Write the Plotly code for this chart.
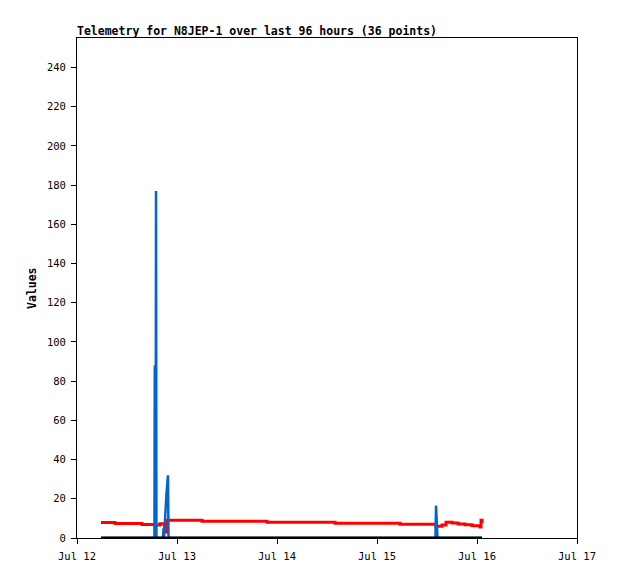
import plotly.graph_objects as go

# ---- data ----
red_times = ["2024-07-12 05:46", "2024-07-12 09:07", "2024-07-12 15:36", "2024-07-12 18:43",
             "2024-07-12 19:55", "2024-07-12 21:00", "2024-07-12 21:22", "2024-07-12 21:43",
             "2024-07-13 06:00", "2024-07-13 21:36", "2024-07-14 13:55", "2024-07-15 05:31",
             "2024-07-15 14:10", "2024-07-15 15:36", "2024-07-15 16:34", "2024-07-15 18:00",
             "2024-07-15 19:26", "2024-07-15 21:07", "2024-07-15 22:48", "2024-07-16 00:43",
             "2024-07-16 00:58", "2024-07-16 01:12"]
red_values = [7.9, 7.4, 6.9, 6.6, 7.3, 4.5, 3.0, 9.0, 8.5, 8.0, 7.5, 7.0,
              6.0, 6.6, 8.0, 7.6, 7.2, 6.7, 6.2, 5.6, 9.0, 7.6]

blue_times = ["2024-07-12 05:46", "2024-07-12 18:35", "2024-07-12 18:40", "2024-07-12 18:45",
              "2024-07-12 18:52", "2024-07-12 18:58", "2024-07-12 19:04",
              "2024-07-12 20:38", "2024-07-12 20:46", "2024-07-12 20:53",
              "2024-07-12 21:00", "2024-07-12 21:14", "2024-07-12 21:29", "2024-07-12 21:41",
              "2024-07-12 21:50", "2024-07-12 21:58", "2024-07-15 14:02", "2024-07-15 14:10",
              "2024-07-15 14:24", "2024-07-15 14:31", "2024-07-16 01:12"]
blue_values = [0, 0, 88, 0, 0, 177, 0, 0, 5, 0, 5, 17, 23, 28, 32, 0, 0, 16.5, 8, 0, 0]

black_times = ["2024-07-12 05:46", "2024-07-16 01:12"]
black_values = [0, 0]

x_range = ["2024-07-12 00:00", "2024-07-17 00:00"]
y_range = [0, 255]
y_ticks = list(range(0, 241, 20))
title_text = "Telemetry for N8JEP-1 over last 96 hours (36 points)"
y_title = "Values"

# ---- figure ----
fig = go.Figure()
fig.add_trace(go.Scatter(x=red_times, y=red_values, mode="lines", line_shape="hv",
                         line=dict(color="#ff0000", width=3), showlegend=False))
fig.add_trace(go.Scatter(x=blue_times, y=blue_values, mode="lines",
                         line=dict(color="#0066cc", width=2.5), showlegend=False))
fig.add_trace(go.Scatter(x=black_times, y=black_values, mode="lines",
                         line=dict(color="#000000", width=3), showlegend=False))

mono = "DejaVu Sans Mono"
fig.update_layout(
    width=618, height=579,
    margin=dict(l=69, r=49, t=30, b=49),
    paper_bgcolor="white", plot_bgcolor="white",
    title=dict(text=f"<b>{title_text}</b>", x=0, xref="paper", xanchor="left",
               y=1 - 23 / 579, yref="container", yanchor="middle",
               font=dict(family=mono, size=11.5, color="black")),
    font=dict(family=mono, size=10.5, color="black"),
    annotations=[dict(text=f"<b>{y_title}</b>", x=(32 - 77) / 500, xref="paper",
                      xanchor="center", yanchor="middle",
                      y=0.5, yref="paper", showarrow=False, textangle=-90,
                      font=dict(family=mono, size=11.5, color="black"))],
)

fig.update_xaxes(type="date", range=x_range, dtick=86400000, tickformat="%b %-d",
                 showgrid=False, zeroline=False, showline=True, linecolor="black",
                 linewidth=1, mirror=True, ticks="outside", ticklen=5, tickcolor="black",
                 ticklabelstandoff=3, tickfont=dict(family=mono, size=10.5))
fig.update_yaxes(range=y_range, tickvals=y_ticks, showgrid=False, zeroline=False,
                 showline=True, linecolor="black", linewidth=1, mirror=True,
                 ticks="outside", ticklen=5, tickcolor="black",
                 ticklabelstandoff=3, tickfont=dict(family=mono, size=10.5))

fig.write_html("out.html")
